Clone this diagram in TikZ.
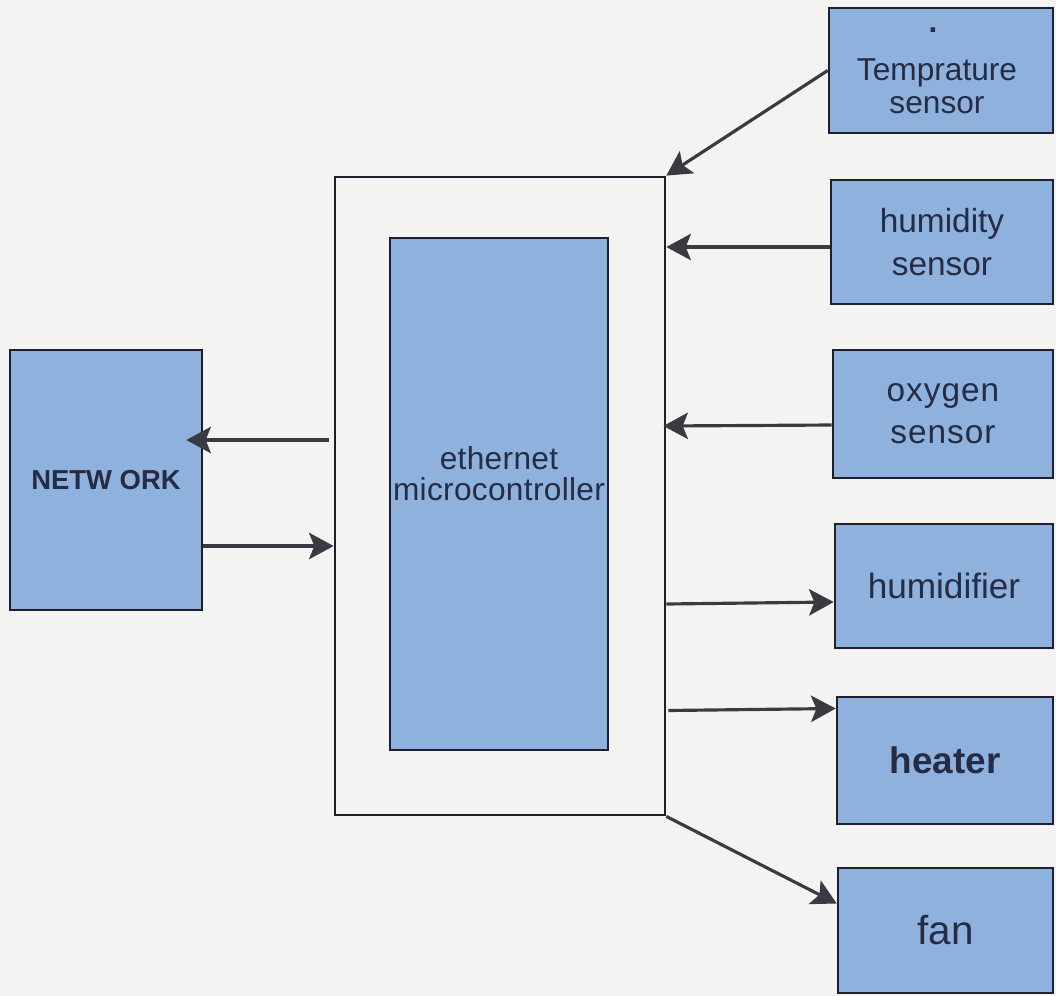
\documentclass[tikz,border=0pt]{standalone}
\usepackage{fontspec}
\setmainfont{Liberation Sans}
\usetikzlibrary{arrows.meta,calc}
\definecolor{boxfill}{RGB}{143,177,221}
\definecolor{boxedge}{RGB}{30,32,45}
\definecolor{wireink}{RGB}{58,58,66}
\definecolor{labelink}{RGB}{38,44,68}
\definecolor{paper}{RGB}{243,243,241}

\begin{document}
\begin{tikzpicture}[x=0.01cm,y=-0.01cm,
  blk/.style={draw=boxedge,line width=0.7pt,fill=boxfill,inner sep=0pt,
    text=labelink,align=center,font=\fontsize{9.5}{12}\selectfont},
  frame/.style={draw=boxedge,line width=0.7pt,inner sep=0pt},
  wire/.style={draw=wireink,line width=0.9pt,
    -{Stealth[length=7pt,width=7.5pt,inset=1.5pt]}},
  txt/.style={text=labelink,inner sep=0pt,align=center}]
  \path[use as bounding box,fill=paper] (0,0) rectangle (1056,996);
  % controller
  \node[frame,minimum width=3.30cm,minimum height=6.38cm] (frame) at (500,496) {};
  \node[blk,minimum width=2.18cm,minimum height=5.12cm] (mcu) at (499,494) {};
  \node[txt,font=\fontsize{9}{8.8}\selectfont\addfontfeature{LetterSpace=1}] (mculbl) at (499,474)
    {ethernet\\microcontroller};
  \node[blk,minimum width=1.92cm,minimum height=2.60cm,
    font=\fontsize{7.8}{9}\bfseries] (net) at (106,480) {NETW ORK};
  % sensors
  \node[blk,minimum width=2.24cm,minimum height=1.25cm] (temp) at (941,70.5) {};
  \node[txt,font=\fontsize{9}{9.3}\selectfont] (templbl) at (937,86) {Temprature\\sensor};
  \node[txt,font=\fontsize{9}{9}\bfseries] (tempdot) at (933,30) {.};
  \node[blk,minimum width=2.22cm,minimum height=1.24cm] (hum) at (942,242) {humidity\\sensor};
  \node[blk,minimum width=2.20cm,minimum height=1.28cm] (oxy) at (943,414)
    {\addfontfeature{LetterSpace=3}oxygen\\\addfontfeature{LetterSpace=3}sensor};
  % actuators
  \node[blk,minimum width=2.18cm,minimum height=1.24cm,
    font=\fontsize{10}{12}\selectfont] (humf) at (944,586) {humidifier};
  \node[blk,minimum width=2.16cm,minimum height=1.27cm,
    font=\fontsize{10.5}{12}\bfseries] (heater) at (945,760.5) {heater};
  \node[blk,minimum width=2.15cm,minimum height=1.25cm,
    font=\fontsize{11.5}{13}\selectfont] (fan) at (945.5,930.5) {fan};
  % links
  \draw[wire] (temp.west) -- (frame.north east);
  \draw[wire] ($(hum.west)+(0,5)$) -- ($(frame.east |- hum.west)+(0,5)$);
  \draw[wire] ($(oxy.west)+(0,11)$) -- ($(frame.east |- oxy.west)+(-3,12)$);
  \draw[wire] ($(frame.east |- humf.west)+(0,18)$) -- ($(humf.west)+(0,16)$);
  \draw[wire] ($(frame.east |- heater.west)+(2,-50)$) -- ($(heater.west)+(0,-52)$);
  \draw[wire] (frame.south east) -- ($(fan.west)+(0,-27)$);
  \draw[wire] ($(frame.west)+(-5,-56)$) -- ($(net.east)+(-17,-40)$);
  \draw[wire] ($(net.east)+(0,66)$) -- ($(frame.west)+(0,50)$);
\end{tikzpicture}
\end{document}
